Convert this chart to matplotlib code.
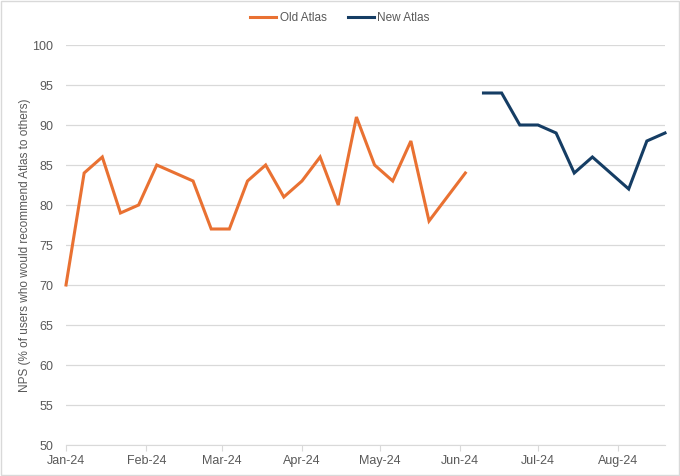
import matplotlib
matplotlib.use("Agg")
import matplotlib.pyplot as plt
import matplotlib.dates as mdates
from matplotlib.patches import Rectangle
import pandas as pd

old_dates = ["2024-01-01", "2024-01-08", "2024-01-15", "2024-01-22", "2024-01-29",
             "2024-02-05", "2024-02-19", "2024-02-26", "2024-03-04", "2024-03-11",
             "2024-03-18", "2024-03-25", "2024-04-01", "2024-04-08", "2024-04-15",
             "2024-04-22", "2024-04-29", "2024-05-06", "2024-05-13", "2024-05-20",
             "2024-06-03"]
old_values = [70, 84, 86, 79, 80, 85, 83, 77, 77, 83, 85, 81, 83, 86, 80, 91, 85, 83, 88, 78, 84]

new_dates = ["2024-06-10", "2024-06-17", "2024-06-24", "2024-07-01", "2024-07-08",
             "2024-07-15", "2024-07-22", "2024-08-05", "2024-08-12", "2024-08-19"]
new_values = [94, 94, 90, 90, 89, 84, 86, 82, 88, 89]

y_ticks = list(range(50, 101, 5))

plt.rcParams['font.family'] = ['Liberation Sans', 'DejaVu Sans']

fig = plt.figure(figsize=(6.8, 4.76), dpi=100)
ax = fig.add_axes([66/680, 1-445/476, (665-66)/680, 400/476])

ax.plot(pd.to_datetime(old_dates), old_values, color="#E97132", lw=2.2, label="Old Atlas",
        solid_joinstyle="miter", clip_on=False, zorder=3)
ax.plot(pd.to_datetime(new_dates), new_values, color="#153D64", lw=2.2, label="New Atlas",
        solid_joinstyle="miter", clip_on=False, zorder=3)

ax.set_ylim(50, 100)
ax.set_yticks(y_ticks)
ax.set_xlim(pd.Timestamp("2024-01-01"), pd.Timestamp("2024-08-19"))
ax.xaxis.set_major_locator(mdates.MonthLocator())
ax.xaxis.set_major_formatter(mdates.DateFormatter("%b-%y"))

ax.grid(axis="y", color="#D9D9D9", lw=0.9)
ax.set_axisbelow(True)
for s in ["top", "right", "left"]:
    ax.spines[s].set_visible(False)
ax.spines["bottom"].set_color("#D9D9D9")
ax.tick_params(axis="y", length=0, pad=9, labelsize=9, labelcolor="#595959")
ax.tick_params(axis="x", length=4, color="#D9D9D9", pad=3, labelsize=9, labelcolor="#595959")

ax.set_ylabel("NPS (% of users who would recommend Atlas to others)", fontsize=8.5,
              color="#595959")
ax.yaxis.set_label_coords(-0.058, 0.5)

leg = fig.legend(loc="center", bbox_to_anchor=(0.5, 1-18/476), ncol=2, frameon=False,
                 fontsize=8.5, handlelength=2.2, columnspacing=1.8, handletextpad=0.3)
for t in leg.get_texts():
    t.set_color("#595959")

fig.patches.append(Rectangle((0.002, 0.002), 0.996, 0.996, transform=fig.transFigure,
                             fill=False, edgecolor="#D9D9D9", lw=1))

fig.savefig("out.png", dpi=100, facecolor="white")
